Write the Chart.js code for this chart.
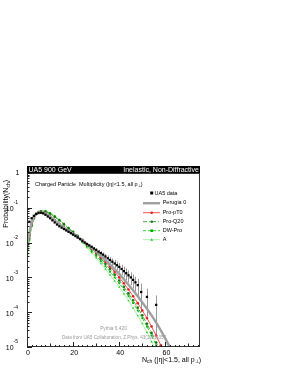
<!DOCTYPE html>
<html><head><meta charset="utf-8">
<script src="https://cdn.jsdelivr.net/npm/chart.js@4.4.0/dist/chart.umd.min.js"></script>
<style>html,body{margin:0;padding:0;background:#fff}canvas{display:block}</style>
</head><body>
<canvas id="c" width="289" height="374" style="width:289px;height:374px"></canvas>
<script>
const FONT = '"Liberation Sans", Arial, Helvetica, sans-serif';

// UA5 data
const ua5Nch = [0,1,2,3,4,5,6,7,8,9,10,11,12,13,14,15,16,17,18,19,20,21,22,23,24,25,26,27,28,29,30,31,32,33,34,35,36,37,38,39,40,41,42,43,44,45,46,47,48,49.5,52,56];
const ua5Prob = [0.0339,0.0398,0.0501,0.0589,0.0661,0.0708,0.0724,0.0692,0.0631,0.0562,0.0501,0.0437,0.0380,0.0331,0.0295,0.0269,0.0245,0.0224,0.0204,0.0186,0.0170,0.0155,0.0141,0.0126,0.0112,0.0100,0.0091,0.0083,0.0076,0.0068,0.0062,0.0055,0.0050,0.0045,0.0040,0.00355,0.00316,0.00282,0.00251,0.00224,0.00200,0.00174,0.00151,0.00132,0.00115,0.00100,0.00085,0.00072,0.00060,0.00038,0.000275,0.000162];
const ua5Err = [0,0,0,0,0,0,0,0,0,0,0,0,0,0,0,0,0,0,0,0,0,0,0,0,0,0,0,0,0.00038,0.00054,0.00062,0.00066,0.00070,0.00072,0.00072,0.00071,0.00070,0.00068,0.00065,0.00063,0.00060,0.00056,0.00051,0.00048,0.00044,0.00040,0.00037,0.00033,0.00030,0.00028,0.00020,0.00014];

// Pythia 6.420 tunes
const modelNch = [0,1,2,3,4,5,6,8,10,12,14,16,18,20,22,24,26,28,30,32,34,36,38,40,42,44,46,48,50,52,54,56,58,60,62,64];
const perugia0 = [7.94e-3,1.91e-2,3.80e-2,5.50e-2,6.76e-2,7.41e-2,7.59e-2,6.92e-2,5.62e-2,4.37e-2,3.39e-2,2.69e-2,2.19e-2,1.78e-2,1.45e-2,1.15e-2,9.12e-3,7.08e-3,5.50e-3,4.17e-3,3.16e-3,2.34e-3,1.74e-3,1.26e-3,8.91e-4,6.17e-4,4.27e-4,2.88e-4,1.91e-4,1.26e-4,8.13e-5,5.01e-5,3.02e-5,1.74e-5,9.55e-6,5.01e-6];
const proPT0 = [6.31e-3,1.58e-2,3.55e-2,5.37e-2,6.76e-2,7.41e-2,7.59e-2,7.08e-2,5.75e-2,4.47e-2,3.47e-2,2.75e-2,2.19e-2,1.78e-2,1.41e-2,1.12e-2,8.71e-3,6.76e-3,5.13e-3,3.80e-3,2.82e-3,2.04e-3,1.45e-3,1.00e-3,6.76e-4,4.47e-4,2.88e-4,1.82e-4,1.12e-4,6.76e-5,3.89e-5,2.14e-5,1.12e-5,5.62e-6];
const proQ20 = [4.47e-3,1.32e-2,3.16e-2,5.13e-2,6.76e-2,7.59e-2,7.94e-2,7.76e-2,6.76e-2,5.50e-2,4.37e-2,3.39e-2,2.63e-2,2.04e-2,1.58e-2,1.20e-2,8.91e-3,6.61e-3,4.79e-3,3.47e-3,2.45e-3,1.74e-3,1.20e-3,8.13e-4,5.37e-4,3.47e-4,2.19e-4,1.35e-4,8.13e-5,4.68e-5,2.57e-5,1.35e-5,6.76e-6];
const dwPro = [3.98e-3,1.20e-2,3.02e-2,5.01e-2,6.61e-2,7.59e-2,8.13e-2,7.94e-2,6.92e-2,5.62e-2,4.37e-2,3.31e-2,2.51e-2,1.91e-2,1.45e-2,1.07e-2,7.94e-3,5.75e-3,4.17e-3,2.95e-3,2.09e-3,1.45e-3,1.00e-3,6.76e-4,4.47e-4,2.88e-4,1.82e-4,1.12e-4,6.76e-5,3.89e-5,2.14e-5,1.12e-5,5.62e-6];
const tuneA = [3.55e-3,1.12e-2,2.82e-2,4.79e-2,6.46e-2,7.59e-2,8.13e-2,8.13e-2,7.24e-2,5.89e-2,4.57e-2,3.47e-2,2.57e-2,1.91e-2,1.38e-2,1.00e-2,7.24e-3,5.13e-3,3.63e-3,2.51e-3,1.74e-3,1.17e-3,7.94e-4,5.25e-4,3.39e-4,2.14e-4,1.32e-4,7.94e-5,4.68e-5,2.63e-5,1.41e-5,7.24e-6];

// axes
const xTickValues = [0,20,40,60];
const yTickValues = [1,1e-1,1e-2,1e-3,1e-4,1e-5];
const yTickExps = ['','-1','-2','-3','-4','-5'];

const legendLabels = ['UA5 data','Perugia 0','Pro-pT0','Pro-Q20','DW-Pro','A'];

const styles = [
  {color:'#000000', marker:'#000000', shape:'rect', dash:[], width:0},
  {color:'#a0a0a0', marker:null, shape:null, dash:[], width:2.4},
  {color:'#ff5050', marker:'#e02020', shape:'circle', dash:[], width:1},
  {color:'#44aa44', marker:'#117711', shape:'circle', dash:[4,2,1,2], width:1},
  {color:'#33cc33', marker:'#00aa00', shape:'rect', dash:[3,2], width:1},
  {color:'#aaeeaa', marker:'#22cc22', shape:'triangle', dash:[], width:1}
];

function pts(xs, ys){ return ys.map((v,i)=>({x:xs[i], y:v})); }

function modelDs(label, ys, st){
  return {label, data:pts(modelNch, ys), borderColor:st.color, borderWidth:st.width, borderDash:st.dash,
    pointRadius: st.marker?1.3:0, pointStyle: st.shape||'circle', pointBackgroundColor: st.marker||st.color,
    pointBorderColor: st.marker||st.color, pointBorderWidth:0, showLine:true, fill:false, tension:0, order:2};
}

function rich(ctx, segs, x, y, align){
  let w = 0;
  segs.forEach(s=>{ ctx.font = s[1]+'px '+FONT; w += ctx.measureText(s[0]).width; });
  let cx = align==='right' ? x - w : (align==='center' ? x - w/2 : x);
  ctx.textAlign = 'left';
  segs.forEach(s=>{ ctx.font = s[1]+'px '+FONT; ctx.fillText(s[0], cx, y + (s[2]||0)); cx += ctx.measureText(s[0]).width; });
}

function drawMarker(ctx, shape, cx, cy, r, color){
  ctx.fillStyle = color;
  ctx.beginPath();
  if (shape==='rect') ctx.rect(cx-r, cy-r, 2*r, 2*r);
  else if (shape==='triangle'){ ctx.moveTo(cx, cy-r*1.2); ctx.lineTo(cx+r*1.1, cy+r*0.8); ctx.lineTo(cx-r*1.1, cy+r*0.8); ctx.closePath(); }
  else ctx.arc(cx, cy, r, 0, Math.PI*2);
  ctx.fill();
}

const deco = {
  id:'deco',
  beforeDatasetsDraw(chart){
    const {ctx, chartArea:a, scales:{x, y}} = chart;
    ctx.save();
    ctx.beginPath(); ctx.rect(a.left, a.top, a.right-a.left, a.bottom-a.top); ctx.clip();
    ctx.strokeStyle = '#9a9a9a'; ctx.lineWidth = 1;
    ua5Nch.forEach((n,i)=>{
      const e = ua5Err[i]; if (!e) return;
      const px = Math.round(x.getPixelForValue(n)) + 0.5;
      const lo = Math.max(ua5Prob[i]-e, 1e-7);
      ctx.beginPath();
      ctx.moveTo(px, y.getPixelForValue(ua5Prob[i]+e));
      ctx.lineTo(px, y.getPixelForValue(lo));
      ctx.stroke();
    });
    ctx.restore();
  },
  afterDraw(chart){
    const {ctx, chartArea:a, scales:{x, y}} = chart;
    ctx.save();
    // frame
    ctx.strokeStyle = '#333'; ctx.lineWidth = 1;
    ctx.strokeRect(a.left+0.5, a.top+0.5, a.right-a.left-1, a.bottom-a.top-1);
    // title bar
    ctx.fillStyle = '#000';
    ctx.fillRect(a.left, a.top-7, a.right-a.left, 7);
    ctx.fillStyle = '#fff'; ctx.textBaseline = 'middle';
    ctx.font = '7px '+FONT; ctx.textAlign = 'left';
    ctx.fillText('UA5 900 GeV', a.left+1.5, a.top-3.2);
    ctx.textAlign = 'right';
    ctx.fillText('Inelastic, Non-Diffractive', a.right-1, a.top-3.2);
    // y ticks
    ctx.strokeStyle = '#222'; ctx.lineWidth = 1;
    for (let d=0; d>=-5; d--){
      const base = Math.pow(10, d);
      const py = Math.round(y.getPixelForValue(base)) + 0.5;
      ctx.beginPath(); ctx.moveTo(a.left, py); ctx.lineTo(a.left+5, py); ctx.stroke();
      if (d>-5){
        for (let m=2; m<=9; m++){
          const pm = Math.round(y.getPixelForValue(base*m/10)) + 0.5;
          ctx.beginPath(); ctx.moveTo(a.left, pm); ctx.lineTo(a.left+2.5, pm); ctx.stroke();
        }
      }
    }
    // x ticks
    for (let v=0; v<=74; v+=2){
      const px = Math.round(x.getPixelForValue(v)) + 0.5;
      const len = (v%20===0) ? 5 : (v%10===0 ? 3.5 : 2);
      ctx.beginPath(); ctx.moveTo(px, a.bottom); ctx.lineTo(px, a.bottom-len); ctx.stroke();
    }
    // y labels
    ctx.fillStyle = '#000'; ctx.textBaseline = 'middle';
    yTickValues.forEach((v,i)=>{
      const py = y.getPixelForValue(v);
      const e = yTickExps[i];
      if (!e){ ctx.font = '7px '+FONT; ctx.textAlign='right'; ctx.fillText('1', 19.5, py+0.5); return; }
      ctx.font = '5px '+FONT; const ew = ctx.measureText(e).width;
      ctx.font = '7px '+FONT; const tw = ctx.measureText('10').width;
      const right = 18;
      ctx.textAlign = 'left';
      ctx.fillText('10', right-ew-tw, py+1.5);
      ctx.font = '5px '+FONT;
      ctx.fillText(e, right-ew, py-5);
    });
    // x labels
    ctx.font = '7px '+FONT; ctx.textAlign = 'center';
    xTickValues.forEach(v=>{ ctx.fillText(String(v), x.getPixelForValue(v)+1, a.bottom+6); });
    // x title
    rich(ctx, [['N',7,0],['ch',5,1.8],[' (|\u03b7|<1.5, all p',7,0],['\u22a5',5,1.8],[')',7,0]], a.right+1, a.bottom+13, 'right');
    // y title
    ctx.save();
    ctx.translate(6.5, a.top+7);
    ctx.rotate(-Math.PI/2);
    rich(ctx, [['Probability(N',7,0],['ch',5,1.8],[')',7,0]], 0, 0, 'right');
    ctx.restore();
    // subtitle
    rich(ctx, [['Charged Particle  Multiplicity (|\u03b7|<1.5, all p',5.5,0],['\u22a5',4,1.4],[')',5.5,0]], 35, a.top+11, 'left');
    // legend
    const rows = [193, 202.7, 212.2, 221.2, 230.2, 239.2];
    legendLabels.forEach((lab,i)=>{
      const st = styles[i]; const ry = rows[i];
      if (i===0){
        drawMarker(ctx, 'rect', 151.7, ry, 1.5, '#000');
        ctx.fillStyle = '#000'; ctx.font = '5.5px '+FONT; ctx.textAlign='left';
        ctx.fillText(lab, 154.5, ry);
        return;
      }
      ctx.save();
      ctx.strokeStyle = st.color; ctx.lineWidth = st.width; ctx.setLineDash(st.dash);
      ctx.beginPath(); ctx.moveTo(143, ry+0.5); ctx.lineTo(160, ry+0.5); ctx.stroke();
      ctx.restore();
      if (st.marker) drawMarker(ctx, st.shape, 151.7, ry+0.5, 1.3, st.marker);
      ctx.fillStyle = '#000'; ctx.font = '5.5px '+FONT; ctx.textAlign='left';
      ctx.fillText(lab, 162.7, ry);
    });
    // annotations
    ctx.fillStyle = '#999'; ctx.textAlign = 'center'; ctx.font = '4.8px '+FONT;
    ctx.fillText('Pythia 6.420', 113.5, 329);
    ctx.textAlign = 'left'; ctx.font = '4.6px '+FONT;
    ctx.fillText('Data from UA5 Collaboration, Z.Phys. 43(1989)357', 62, 338);
    ctx.restore();
  }
};

new Chart(document.getElementById('c'), {
  type:'scatter',
  data:{ datasets:[
    {label:legendLabels[0], data:pts(ua5Nch, ua5Prob), pointStyle:'rect', pointRadius:1.6, pointBackgroundColor:'#000', pointBorderWidth:0, showLine:false, order:1},
    modelDs(legendLabels[1], perugia0, styles[1]),
    modelDs(legendLabels[2], proPT0, styles[2]),
    modelDs(legendLabels[3], proQ20, styles[3]),
    modelDs(legendLabels[4], dwPro, styles[4]),
    modelDs(legendLabels[5], tuneA, styles[5])
  ]},
  options:{
    responsive:false, animation:false, devicePixelRatio:1,
    layout:{padding:{left:27, top:173, right:89, bottom:27}},
    plugins:{legend:{display:false}, tooltip:{enabled:false}, title:{display:false}},
    scales:{
      x:{type:'linear', min:0, max:75, display:false},
      y:{type:'logarithmic', min:1e-5, max:1, display:false}
    }
  },
  plugins:[deco]
});
</script>
</body></html>
